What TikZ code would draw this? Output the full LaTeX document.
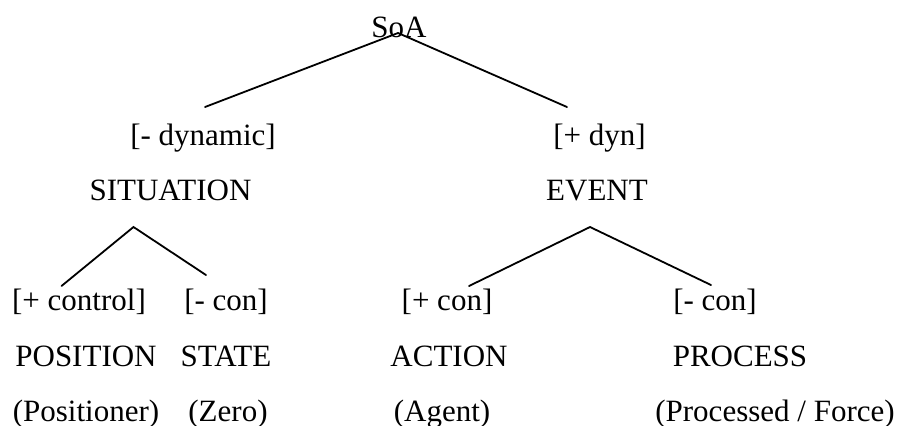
\documentclass[tikz,border=0pt]{standalone}
\usepackage{fontspec}
\setmainfont{Liberation Serif}
\usepackage{tikz}

\begin{document}
\begin{tikzpicture}[
  x=0.5pt, y=-0.5pt,
  lbl/.style={anchor=base, inner sep=0pt, font=\fontsize{15.5pt}{18pt}\selectfont},
  branch/.style={line width=0.9pt, line cap=round}
]
\useasboundingbox (0,0) rectangle (897,425);
\node[lbl] (soa) at (399,37) {SoA};
\node[lbl] (mdyn) at (203,145) {[- dynamic]};
\node[lbl] (pdyn) at (599.5,145) {[+ dyn]};
\node[lbl] (sit) at (170.5,200) {SITUATION};
\node[lbl] (event) at (597,200) {EVENT};
\node[lbl] (pctrl) at (79,310) {[+ control]};
\node[lbl] (mconl) at (226,310) {[- con]};
\node[lbl] (pcon) at (447,310) {[+ con]};
\node[lbl] (mconr) at (715,310) {[- con]};
\node[lbl] (position) at (86,366) {POSITION};
\node[lbl] (state) at (226,366) {STATE};
\node[lbl] (action) at (449,366) {ACTION};
\node[lbl] (process) at (740,366) {PROCESS};
\node[lbl] (positioner) at (86,421) {(Positioner)};
\node[lbl] (zero) at (228,421) {(Zero)};
\node[lbl] (agent) at (442,421) {(Agent)};
\node[lbl] (processed) at (775,421) {(Processed / Force)};
\draw[branch] ([shift={(2,-38)}]mdyn.base) -- ([shift={(-1,-4)}]soa.base) -- ([shift={(-32.5,-38)}]pdyn.base);
\draw[branch] ([shift={(-17.5,-24)}]pctrl.base) -- ([shift={(-37,27)}]sit.base) -- ([shift={(-20,-35)}]mconl.base);
\draw[branch] ([shift={(22,-24)}]pcon.base) -- ([shift={(-7,27)}]event.base) -- ([shift={(-4,-25)}]mconr.base);
\end{tikzpicture}
\end{document}
